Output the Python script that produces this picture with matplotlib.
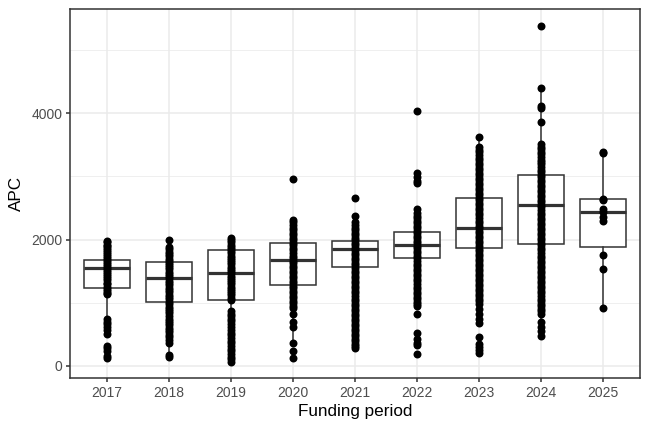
import matplotlib
matplotlib.use("Agg")
import matplotlib.pyplot as plt
from matplotlib.ticker import MultipleLocator

# Funding periods
years = ['2017', '2018', '2019', '2020', '2021', '2022', '2023', '2024', '2025']

# Box statistics
q1 = [1241, 1014, 1041, 1279, 1574, 1712, 1865, 1929, 1886]
med = [1558, 1390, 1469, 1685, 1844, 1918, 2182, 2552, 2436]
q3 = [1685, 1638, 1833, 1939, 1976, 2113, 2657, 3027, 2647]
whislo = [610, 143, 70, 370, 990, 1140, 687, 480, 924]
whishi = [1980, 1997, 2024, 2314, 2378, 2483, 3619, 4396, 3390]

# Individual APC values per funding period (estimated)
apc_2017 = [1980, 1955, 1918, 1893, 1862, 1828, 1801, 1768, 1742, 1703, 1671,
            1644, 1609, 1583, 1548, 1522, 1487, 1461, 1423, 1392, 1354, 1318,
            1292, 1251, 1224, 1188, 1152, 1136, 740, 702, 658, 612, 563, 508,
            320, 281, 236, 152, 122]
apc_2018 = [1997, 1880, 1853, 1812, 1779, 1742, 1701, 1668, 1633, 1598, 1562,
            1528, 1493, 1458, 1421, 1388, 1352, 1313, 1279, 1242, 1203, 1168,
            1131, 1092, 1053, 1018, 982, 941, 903, 868, 831, 792, 751, 713,
            678, 642, 601, 568, 532, 489, 452, 411, 370, 175, 143]
apc_2019 = [2024, 1992, 1958, 1921, 1887, 1853, 1818, 1782, 1747, 1712, 1678,
            1641, 1608, 1572, 1538, 1502, 1467, 1432, 1398, 1361, 1327, 1291,
            1258, 1222, 1187, 1151, 1118, 1082, 1048, 872, 829, 791, 748, 712,
            661, 618, 569, 528, 483, 442, 398, 362, 311, 268, 231, 188, 149,
            108, 68]
apc_2020 = [2959, 2314, 2272, 2228, 2191, 2148, 2112, 2068, 2031, 1988, 1952,
            1909, 1871, 1828, 1792, 1748, 1711, 1668, 1632, 1589, 1551, 1508,
            1472, 1428, 1391, 1349, 1312, 1268, 1231, 1189, 1152, 1108, 1071,
            1029, 992, 951, 924, 819, 700, 620, 370, 238, 122]
apc_2021 = [2663, 2378, 2272, 2231, 2188, 2152, 2109, 2071, 2028, 1991, 1948,
            1912, 1868, 1831, 1789, 1752, 1708, 1671, 1629, 1592, 1548, 1511,
            1469, 1432, 1388, 1351, 1309, 1272, 1228, 1191, 1149, 1112, 1068,
            1031, 989, 952, 908, 871, 829, 792, 748, 711, 669, 632, 588, 551,
            509, 472, 428, 391, 348, 312, 291]
apc_2022 = [4042, 3049, 2990, 2930, 2890, 2483, 2421, 2378, 2342, 2298, 2261,
            2218, 2182, 2138, 2101, 2058, 2022, 1978, 1941, 1898, 1862, 1818,
            1781, 1738, 1702, 1658, 1621, 1578, 1542, 1498, 1461, 1418, 1382,
            1338, 1301, 1258, 1222, 1178, 1141, 1098, 1062, 1018, 981, 945,
            819, 518, 430, 370, 340, 195]
apc_2023 = [3619, 3460, 3421, 3379, 3342, 3298, 3261, 3219, 3182, 3138, 3101,
            3059, 3022, 2978, 2941, 2899, 2862, 2818, 2781, 2739, 2702, 2658,
            2621, 2579, 2542, 2498, 2461, 2419, 2382, 2338, 2301, 2259, 2222,
            2178, 2141, 2099, 2062, 2018, 1981, 1939, 1902, 1858, 1821, 1779,
            1742, 1698, 1661, 1619, 1582, 1538, 1501, 1459, 1422, 1378, 1341,
            1299, 1262, 1218, 1181, 1139, 1102, 1058, 1021, 977, 902, 819, 742,
            687, 460, 344, 298, 252, 211]
apc_2024 = [5378, 4396, 4120, 4090, 3857, 3513, 3472, 3431, 3389, 3348, 3309,
            3268, 3228, 3189, 3148, 3109, 3068, 3028, 2989, 2948, 2909, 2868,
            2828, 2789, 2748, 2709, 2668, 2628, 2589, 2548, 2509, 2468, 2428,
            2389, 2348, 2309, 2268, 2228, 2189, 2148, 2109, 2068, 2028, 1989,
            1948, 1909, 1868, 1828, 1789, 1748, 1709, 1668, 1628, 1589, 1548,
            1509, 1468, 1428, 1389, 1348, 1309, 1268, 1228, 1189, 1148, 1109,
            1068, 1028, 989, 948, 909, 868, 819, 700, 620, 560, 480]
apc_2025 = [3390, 3370, 2650, 2620, 2483, 2430, 2351, 2288, 1754, 1543, 924]

apc = [apc_2017, apc_2018, apc_2019, apc_2020, apc_2021, apc_2022, apc_2023,
       apc_2024, apc_2025]

plt.rcParams['font.family'] = ['Liberation Sans', 'DejaVu Sans']

fig = plt.figure(figsize=(6.48, 4.32), dpi=100)
ax = fig.add_axes([70 / 648, 1 - 378 / 432, 570 / 648, 369 / 432])

positions = list(range(1, len(years) + 1))
stats = []
for i in range(len(years)):
    stats.append(dict(med=med[i], q1=q1[i], q3=q3[i],
                      whislo=whislo[i], whishi=whishi[i], label=years[i]))

line_col = '#333333'
ax.bxp(stats, positions=positions, widths=0.75, showfliers=False,
       showcaps=False, patch_artist=True,
       boxprops=dict(facecolor='white', edgecolor=line_col, linewidth=1.1),
       medianprops=dict(color=line_col, linewidth=2.3, solid_capstyle='butt'),
       whiskerprops=dict(color=line_col, linewidth=1.1),
       zorder=2)

for pos, vals in zip(positions, apc):
    ax.scatter([pos] * len(vals), vals, s=33, color='black', linewidths=0,
               zorder=3)

ax.set_xlim(0.4, len(years) + 0.6)
ax.set_ylim(-190, 5650)
ax.set_xticks(positions)
ax.set_xticklabels(years)
ax.yaxis.set_major_locator(MultipleLocator(2000))
ax.yaxis.set_minor_locator(MultipleLocator(1000))

# theme_bw look
ax.set_axisbelow(True)
ax.grid(which='major', color='#EBEBEB', linewidth=1.1)
ax.grid(which='minor', axis='y', color='#EBEBEB', linewidth=0.55)
for sp in ax.spines.values():
    sp.set_color(line_col)
    sp.set_linewidth(1.1)
ax.tick_params(which='major', length=3, width=1.1, color=line_col,
               labelcolor='#4D4D4D', labelsize=10, pad=2.5)
ax.tick_params(which='minor', length=0)

ax.set_xlabel('Funding period', fontsize=12.3, labelpad=3)
ax.set_ylabel('APC', fontsize=12.3, labelpad=5)

fig.savefig('out.png', dpi=100)
